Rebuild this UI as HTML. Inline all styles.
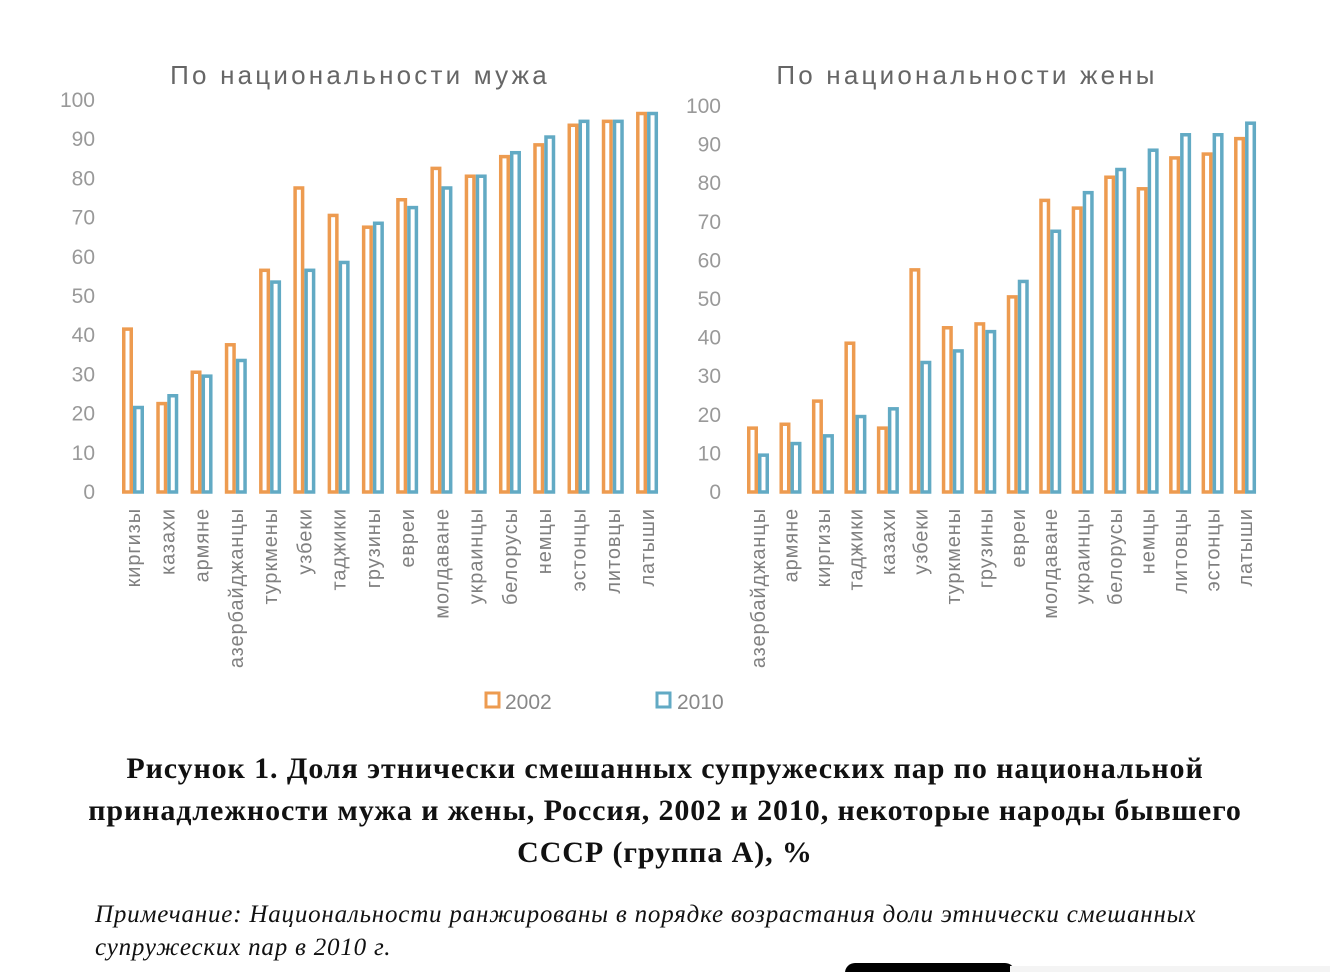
<!DOCTYPE html>
<html><head><meta charset="utf-8">
<style>
html,body{margin:0;padding:0;background:#fff;width:1330px;height:972px;overflow:hidden}
svg{display:block}
.cap{position:absolute;left:0;width:1330px;text-align:center;font-family:"Liberation Serif",serif;font-weight:bold;font-size:30px;letter-spacing:0.9px;color:#111;white-space:nowrap}
.note{position:absolute;left:95px;font-family:"Liberation Serif",serif;font-style:italic;font-size:25px;letter-spacing:0.8px;color:#111;white-space:nowrap}
</style></head><body>
<svg id="s" width="1330" height="972" xmlns="http://www.w3.org/2000/svg" style="position:absolute;left:0;top:0">
<text x="360" y="84" text-anchor="middle" font-family="Liberation Sans, sans-serif" font-size="26" fill="#666" letter-spacing="3.2">По национальности мужа</text>
<text x="967" y="84" text-anchor="middle" font-family="Liberation Sans, sans-serif" font-size="26" fill="#666" letter-spacing="3.2">По национальности жены</text>
<rect x="486" y="693" width="13" height="14" fill="none" stroke="#ED9B50" stroke-width="3"/>
<text x="505" y="709" font-family="Liberation Sans, sans-serif" font-size="21" fill="#888">2002</text>
<rect x="657" y="693" width="13" height="14" fill="none" stroke="#62AAC4" stroke-width="3"/>
<text x="677" y="709" font-family="Liberation Sans, sans-serif" font-size="21" fill="#888">2010</text>
<rect x="845" y="963" width="170" height="20" rx="10" fill="#000"/>
<rect x="1010" y="966" width="320" height="10" fill="#f4f4f4"/>
</svg>
<div class="cap" style="top:752px">Рисунок 1. Доля этнически смешанных супружеских пар по национальной</div>
<div class="cap" style="top:794px">принадлежности мужа и жены, Россия, 2002 и 2010, некоторые народы бывшего</div>
<div class="cap" style="top:836px">СССР (группа А), %</div>
<div class="note" style="top:901px">Примечание: Национальности ранжированы в порядке возрастания доли этнически смешанных</div>
<div class="note" style="top:934px">супружеских пар в 2010 г.</div>
<script>
var s=document.getElementById('s'),NS='http://www.w3.org/2000/svg';
function el(t,a,txt){var e=document.createElementNS(NS,t);for(var k in a)e.setAttribute(k,a[k]);if(txt)e.textContent=txt;s.appendChild(e);return e;}
function chart(o){
  var sc=(o.y0-o.y100)/100;
  for(var v=0;v<=100;v+=10){el('text',{x:o.tx,y:o.y0-v*sc+7,'text-anchor':'end','font-family':'Liberation Sans, sans-serif','font-size':21,fill:'#999'},String(v));}
  o.d.forEach(function(r,i){
    var x=o.x0+i*o.sp;
    var h1=r[1]*sc,h2=r[2]*sc;
    el('rect',{x:x+1.75,y:o.y0-h1+1.75,width:o.bw-3.5,height:h1-1.75,fill:'#fff',stroke:'#ED9B50','stroke-width':3.5});
    el('rect',{x:x+o.bw+1.75,y:o.y0-h2+1.75,width:o.bw-3.5,height:h2-1.75,fill:'#fff',stroke:'#62AAC4','stroke-width':3.5});
    var cx=x+o.bw+7;
    el('text',{transform:'translate('+cx+',508) rotate(-90)','text-anchor':'end','font-family':'Liberation Sans, sans-serif','font-size':20,'letter-spacing':0.9,fill:'#808080'},r[0]);
  });
}
chart({x0:122,sp:34.27,bw:11,y0:492,y100:100,tx:95,d:[
['киргизы',42,22],['казахи',23,25],['армяне',31,30],['азербайджанцы',38,34],['туркмены',57,54],['узбеки',78,57],['таджики',71,59],['грузины',68,69],['евреи',75,73],['молдаване',83,78],['украинцы',81,81],['белорусы',86,87],['немцы',89,91],['эстонцы',94,95],['литовцы',95,95],['латыши',97,97]]});
chart({x0:747,sp:32.47,bw:11,y0:492,y100:106,tx:721,d:[
['азербайджанцы',17,10],['армяне',18,13],['киргизы',24,15],['таджики',39,20],['казахи',17,22],['узбеки',58,34],['туркмены',43,37],['грузины',44,42],['евреи',51,55],['молдаване',76,68],['украинцы',74,78],['белорусы',82,84],['немцы',79,89],['литовцы',87,93],['эстонцы',88,93],['латыши',92,96]]});
</script>
</body></html>
